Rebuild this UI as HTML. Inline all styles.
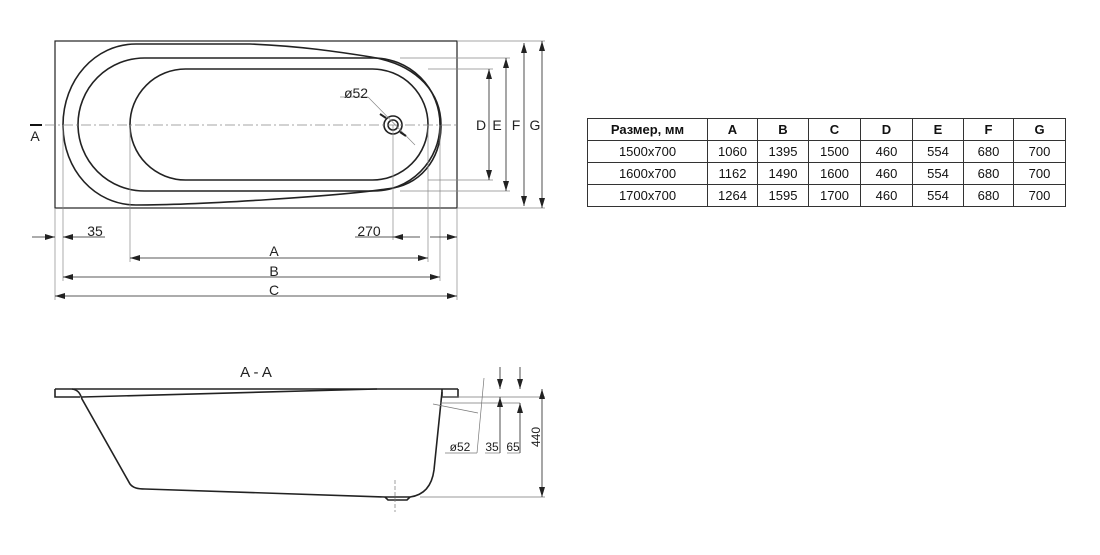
<!DOCTYPE html>
<html><head><meta charset="utf-8"><style>
body{margin:0;background:#fff;width:1100px;height:555px;overflow:hidden;font-family:"Liberation Sans",sans-serif}
table{position:absolute;left:587px;top:118px;border-collapse:collapse;font-size:13px;color:#111}
td{border:1px solid #333;height:21px;padding:0;text-align:center}
</style></head><body>
<svg width="1100" height="555" style="position:absolute;left:0;top:0" font-family="Liberation Sans, sans-serif">
<defs><marker id="ar" markerWidth="10" markerHeight="6" refX="10" refY="3" orient="auto-start-reverse" markerUnits="userSpaceOnUse"><path d="M0,0 L10,3 L0,6z" fill="#222"/></marker></defs>
<g fill="none" stroke="#222" stroke-width="1.6">
<rect x="55" y="41" width="402" height="167" stroke-width="1.2"/>
<path d="M136,44 L250,44 C300,46 340,52 371,57 C420,65 441,95 441,125 C441,160 420,186 386,189 C340,196 200,205 136,205 C95,205 63,170 63,125 C63,80 95,44 136,44Z"/>
<rect x="78" y="58" width="362" height="133" rx="66.5"/>
<rect x="130" y="69" width="298" height="111" rx="55.5"/>
<circle cx="393" cy="125" r="9"/><circle cx="393" cy="125" r="5"/>
</g>
<g stroke="#888" stroke-width="0.7" fill="none">
<line x1="45" y1="125" x2="456" y2="125" stroke-dasharray="10,3,2,3"/>
<line x1="428" y1="69" x2="493" y2="69"/><line x1="428" y1="180" x2="493" y2="180"/>
<line x1="400" y1="58" x2="510" y2="58"/><line x1="400" y1="191" x2="510" y2="191"/>
<line x1="457" y1="41" x2="545" y2="41"/><line x1="457" y1="208" x2="545" y2="208"/>
<line x1="130" y1="125" x2="130" y2="262"/><line x1="428" y1="125" x2="428" y2="262"/>
<line x1="63" y1="125" x2="63" y2="281"/><line x1="440" y1="125" x2="440" y2="281"/>
<line x1="55" y1="208" x2="55" y2="300"/><line x1="457" y1="208" x2="457" y2="300"/>
<line x1="393" y1="125" x2="393" y2="240"/>
<line x1="340" y1="97" x2="368" y2="97"/><line x1="368" y1="97" x2="415" y2="145"/>
</g>
<g stroke="#222" stroke-width="0.8" fill="none">
<line x1="489" y1="69" x2="489" y2="180" marker-start="url(#ar)" marker-end="url(#ar)"/>
<line x1="506" y1="58" x2="506" y2="191" marker-start="url(#ar)" marker-end="url(#ar)"/>
<line x1="524" y1="43" x2="524" y2="206" marker-start="url(#ar)" marker-end="url(#ar)"/>
<line x1="542" y1="41" x2="542" y2="208" marker-start="url(#ar)" marker-end="url(#ar)"/>
<line x1="130" y1="258" x2="428" y2="258" marker-start="url(#ar)" marker-end="url(#ar)"/>
<line x1="63" y1="277" x2="440" y2="277" marker-start="url(#ar)" marker-end="url(#ar)"/>
<line x1="55" y1="296" x2="457" y2="296" marker-start="url(#ar)" marker-end="url(#ar)"/>
<line x1="32" y1="237" x2="55" y2="237" marker-end="url(#ar)"/>
<line x1="105" y1="237" x2="63" y2="237" marker-end="url(#ar)"/>
<line x1="355" y1="237" x2="393" y2="237"/>
<line x1="420" y1="237" x2="393" y2="237" marker-end="url(#ar)"/>
<line x1="430" y1="237" x2="457" y2="237" marker-end="url(#ar)"/>
<line x1="380" y1="114" x2="386" y2="118" stroke-width="2"/><line x1="400" y1="132" x2="406" y2="136" stroke-width="2"/>
</g>
<line x1="30" y1="125" x2="42" y2="125" stroke="#111" stroke-width="2"/>
<g font-size="14" fill="#222" text-anchor="middle">
<text x="35" y="141">A</text>
<text x="356" y="98">ø52</text>
<text x="481" y="130">D</text><text x="497" y="130">E</text><text x="516" y="130">F</text><text x="535" y="130">G</text>
<text x="95" y="236">35</text><text x="369" y="236">270</text>
<text x="274" y="256">A</text><text x="274" y="276">B</text><text x="274" y="295">C</text>
<text x="256" y="377" font-size="15">A - A</text>
<text x="460" y="451" font-size="12">ø52</text><text x="492" y="451" font-size="12">35</text><text x="513" y="451" font-size="12">65</text>
<text transform="translate(540,437) rotate(-90)" font-size="12">440</text>
</g>
<g stroke="#222" stroke-width="1.6" fill="none">
<line x1="55" y1="389" x2="458" y2="389"/>
<path d="M55,389 L55,397 L80,397"/>
<path d="M72,389 C78,390 80,393 82,399 L130,484 C133,488 138,489 145,489 L385,497 L410,497 C425,495 432,485 434,470 L442,392"/>
<line x1="82" y1="397" x2="377" y2="389"/>
<path d="M442,389 L442,397 L458,397 L458,389"/>
<path d="M385,497 L388,500 L407,500 L410,497"/>
</g>
<g stroke="#777" stroke-width="0.7" fill="none">
<line x1="442" y1="397" x2="545" y2="397"/>
<line x1="440" y1="403" x2="520" y2="403"/>
<line x1="433" y1="404" x2="478" y2="413"/>
<line x1="420" y1="497" x2="545" y2="497"/>
<line x1="395" y1="480" x2="395" y2="512" stroke-dasharray="4,2"/>
<line x1="445" y1="453" x2="477" y2="453"/><line x1="477" y1="453" x2="484" y2="378"/>
<line x1="485" y1="453" x2="500" y2="453"/><line x1="507" y1="453" x2="520" y2="453"/>
</g>
<g stroke="#222" stroke-width="0.8" fill="none">
<line x1="500" y1="367" x2="500" y2="389" marker-end="url(#ar)"/><line x1="500" y1="453" x2="500" y2="397" marker-end="url(#ar)"/>
<line x1="520" y1="367" x2="520" y2="389" marker-end="url(#ar)"/><line x1="520" y1="453" x2="520" y2="403" marker-end="url(#ar)"/>
<line x1="542" y1="389" x2="542" y2="497" marker-start="url(#ar)" marker-end="url(#ar)"/>
</g>
</svg>
<table>
<tr style="font-weight:bold"><td style="width:119px">Размер, мм</td><td style="width:49px">A</td><td style="width:50px">B</td><td style="width:51px">C</td><td style="width:51px">D</td><td style="width:50px">E</td><td style="width:49px">F</td><td style="width:51px">G</td></tr>
<tr><td>1500x700</td><td>1060</td><td>1395</td><td>1500</td><td>460</td><td>554</td><td>680</td><td>700</td></tr>
<tr><td>1600x700</td><td>1162</td><td>1490</td><td>1600</td><td>460</td><td>554</td><td>680</td><td>700</td></tr>
<tr><td>1700x700</td><td>1264</td><td>1595</td><td>1700</td><td>460</td><td>554</td><td>680</td><td>700</td></tr>
</table>
</body></html>
